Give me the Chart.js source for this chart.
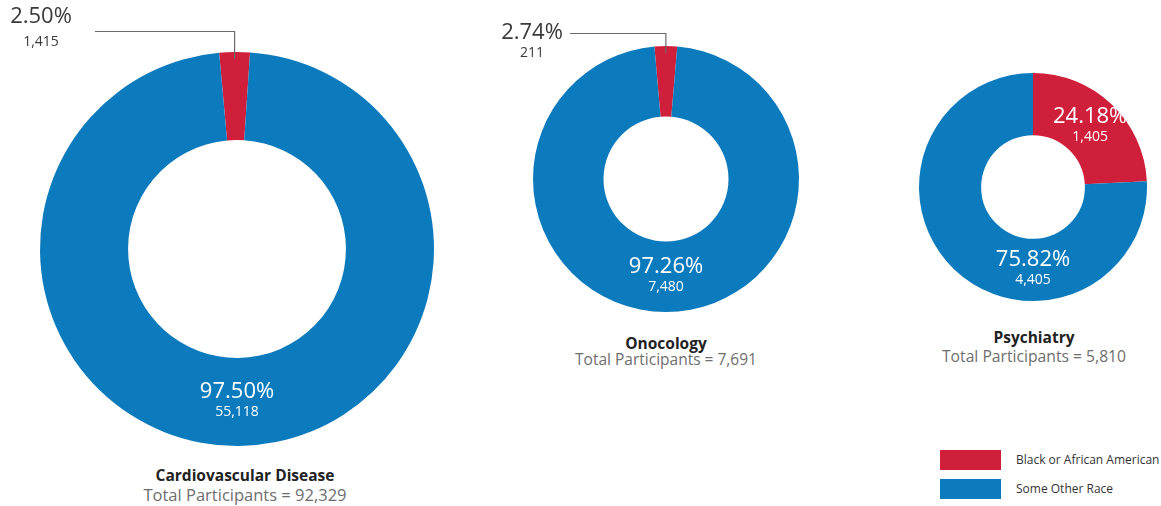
<!DOCTYPE html>
<html><head><meta charset="utf-8">
<script src="https://cdn.jsdelivr.net/npm/chart.js@4"></script>
<style>
body{margin:0;background:#fff;font-family:"Open Sans",sans-serif;}
#wrap{position:relative;width:1161px;height:506px;overflow:hidden;background:#fff;}
canvas{position:absolute;}
.t{position:absolute;text-align:center;transform:translateX(-50%);white-space:nowrap;line-height:20px;}
.ti{font-weight:700;font-size:15.5px;color:#222;}
.st{font-size:15.5px;color:#6e6e6e;}
.lg{position:absolute;left:940px;width:61px;height:20px;}
.lt{position:absolute;left:1016px;font-size:12px;color:#333;line-height:20px;white-space:nowrap;}
</style></head>
<body><div id="wrap">
<canvas id="c0"></canvas><canvas id="c1"></canvas><canvas id="c2"></canvas>
</div>
<script>
const categories = ['Black or African American', 'Some Other Race'];
const chartTitles = ['Cardiovascular Disease', 'Onocology', 'Psychiatry'];
const totals = [92329, 7691, 5810];
const blackPct = [2.50, 2.74, 24.18];
const otherPct = [97.50, 97.26, 75.82];
const blackCount = [1415, 211, 1405];
const otherCount = [55118, 7480, 4405];
const colors = ['#d01f3a', '#0b7bbd'];

const layouts = [
  {left:0, top:0, w:460, h:460, pad:{left:40, right:26, top:52, bottom:14}, rot:-5.2, cut:'55.3%',
   modes:['outside','bottom'], out:{lineY:31.5, lineX0:95, textX:41, pctY:17, cntY:42},
   title:{x:245, y:475, sy:495, ss:16.5}},
  {left:480, top:0, w:340, h:330, pad:{left:53, right:21, top:46, bottom:18}, rot:-5, cut:'47%',
   modes:['outside','bottom'], out:{lineY:33.5, lineX0:90, textX:52, pctY:33, cntY:53},
   title:{x:666, y:343, sy:359, ss:15.5}},
  {left:900, top:50, w:261, h:270, pad:{left:19, right:14, top:23, bottom:19}, rot:0, cut:'45.5%',
   modes:['center','bottom'], out:null,
   title:{x:1034, y:337, sy:356, ss:15.7}}
];

const labelPlugin = {
  id: 'sliceLabels',
  afterDatasetsDraw(chart, args, opts) {
    const ctx = chart.ctx;
    const meta = chart.getDatasetMeta(0);
    const ds = chart.data.datasets[0];
    ctx.save();
    ctx.textAlign = 'center';
    ctx.textBaseline = 'middle';
    meta.data.forEach((arc, i) => {
      const p = arc.getProps(['x','y','startAngle','endAngle','innerRadius','outerRadius'], true);
      const pct = ds.data[i].toFixed(2) + '%';
      const cnt = ds.counts[i].toLocaleString('en-US');
      const mode = opts.modes[i];
      let ang = (p.startAngle + p.endAngle) / 2;
      if (mode === 'outside') {
        const o = opts.out;
        const ex = p.x + Math.cos(ang) * p.outerRadius;
        const ey = p.y + Math.sin(ang) * p.outerRadius;
        ctx.strokeStyle = '#6b6b6b';
        ctx.lineWidth = 1.2;
        ctx.beginPath();
        ctx.moveTo(o.lineX0, o.lineY);
        ctx.lineTo(ex, o.lineY);
        ctx.lineTo(ex, ey + 7);
        ctx.stroke();
        ctx.fillStyle = '#3a3a3a';
        ctx.font = '22px "Open Sans"';
        ctx.fillText(pct, o.textX, o.pctY);
        ctx.font = '14px "Open Sans"';
        ctx.fillText(cnt, o.textX, o.cntY);
      } else {
        if (mode === 'bottom') ang = Math.PI / 2;
        const r = (p.innerRadius + p.outerRadius) / 2;
        const x = p.x + Math.cos(ang) * r;
        const y = p.y + Math.sin(ang) * r;
        ctx.fillStyle = '#ffffff';
        ctx.font = '22px "Open Sans"';
        ctx.fillText(pct, x, y - 10);
        ctx.font = '14px "Open Sans"';
        ctx.fillText(cnt, x, y + 10);
      }
    });
    ctx.restore();
  }
};

const wrap = document.getElementById('wrap');
layouts.forEach((L, k) => {
  const cv = document.getElementById('c' + k);
  cv.style.left = L.left + 'px';
  cv.style.top = L.top + 'px';
  cv.width = L.w; cv.height = L.h;
  cv.style.width = L.w + 'px'; cv.style.height = L.h + 'px';
  new Chart(cv, {
    type: 'doughnut',
    data: {
      labels: categories,
      datasets: [{
        data: [blackPct[k], otherPct[k]],
        counts: [blackCount[k], otherCount[k]],
        backgroundColor: colors,
        borderWidth: 0,
        hoverOffset: 0
      }]
    },
    options: {
      responsive: false,
      animation: false,
      devicePixelRatio: 1,
      rotation: L.rot,
      cutout: L.cut,
      layout: {padding: L.pad},
      events: [],
      plugins: {
        legend: {display: false},
        tooltip: {enabled: false},
        sliceLabels: {modes: L.modes, out: L.out}
      }
    },
    plugins: [labelPlugin]
  });
  const t = document.createElement('div');
  t.className = 't ti'; t.textContent = chartTitles[k];
  t.style.left = L.title.x + 'px'; t.style.top = (L.title.y - 10) + 'px';
  wrap.appendChild(t);
  const s = document.createElement('div');
  s.className = 't st'; s.textContent = 'Total Participants = ' + totals[k].toLocaleString('en-US');
  s.style.left = L.title.x + 'px'; s.style.top = (L.title.sy - 10) + 'px';
  s.style.fontSize = L.title.ss + 'px';
  wrap.appendChild(s);
});
categories.forEach((c, i) => {
  const b = document.createElement('div');
  b.className = 'lg'; b.style.top = (450 + i * 29) + 'px'; b.style.background = colors[i];
  wrap.appendChild(b);
  const l = document.createElement('div');
  l.className = 'lt'; l.style.top = (450 + i * 29) + 'px'; l.textContent = c;
  wrap.appendChild(l);
});
</script>
</body></html>
